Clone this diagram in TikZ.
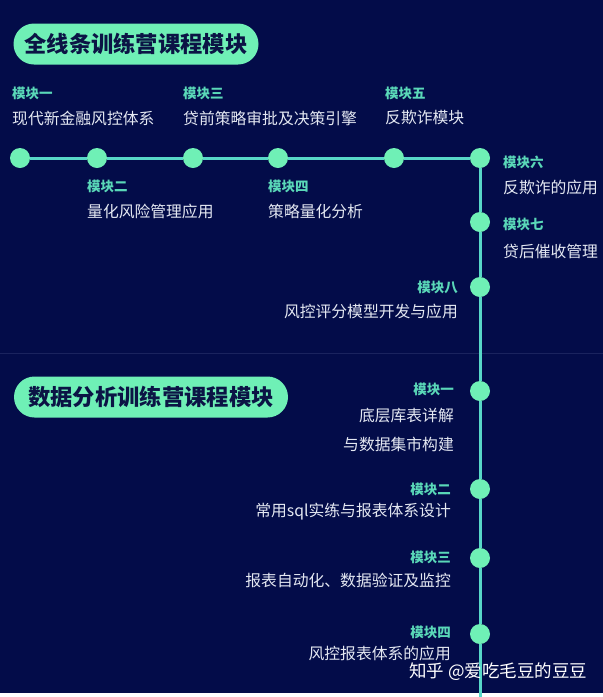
\documentclass[tikz,border=0pt]{standalone}
\usepackage{fontspec}
\setmainfont{Noto Sans CJK SC}
\usepackage{xcolor}
\usepackage{tikz}
\usetikzlibrary{positioning}

\definecolor{navybg}{HTML}{030C49}
\definecolor{mintfill}{HTML}{6FF0B6}
\definecolor{trackcol}{HTML}{58D8C8}
\definecolor{tagcol}{HTML}{5AD8B8}
\definecolor{inkcol}{HTML}{0B1445}
\definecolor{bodycol}{HTML}{E4E8F2}
\definecolor{rulecol}{HTML}{1A235E}

\begin{document}
\begin{tikzpicture}[x=1pt, y=-1pt,
		dot/.style={circle, fill=mintfill, minimum size=20pt, inner sep=0pt},
		trackline/.style={trackcol, line width=3pt},
		pill/.style={rounded corners=20.5pt, fill=mintfill, text=inkcol, inner sep=0pt,
			minimum height=41pt, font=\fontsize{22.3}{22.3}\selectfont\bfseries},
		tagtext/.style={text=tagcol, inner sep=0pt, font=\fontsize{13.5}{13.5}\selectfont\bfseries},
		desc/.style={text=bodycol, inner sep=0pt, font=\fontsize{15.8}{15.8}\selectfont}]
	\useasboundingbox (0,0) rectangle (603,697);
	\fill[navybg] (0,0) rectangle (603,693);
	\draw[rulecol, line width=1.5pt] (0,353.5) -- (603,353.5);

	% Section titles
	\node[pill, minimum width=245pt] (title1) at (136,44) {全线条训练营课程模块};
	\node[pill, minimum width=274pt] (title2) at (151,397) {数据分析训练营课程模块};

	% Milestones
	\node[dot] (m1) at (20,158) {};
	\node[dot] (m2) at (97,158) {};
	\node[dot] (m3) at (193,158) {};
	\node[dot] (m4) at (278,158) {};
	\node[dot] (m5) at (394,158) {};
	\node[dot] (m6) at (480,158) {};
	\node[dot] (m7) at (480,222) {};
	\node[dot] (m8) at (480,287) {};
	\node[dot] (s1) at (480,391) {};
	\node[dot] (s2) at (480,489) {};
	\node[dot] (s3) at (480,558) {};
	\node[dot] (s4) at (480,634) {};
	\coordinate (tail) at (480,697);

	\foreach \a/\b in {m1/m2, m2/m3, m3/m4, m4/m5, m5/m6, m6/m7, m7/m8, m8/s1, s1/s2, s2/s3, s3/s4, s4/tail}
		\draw[trackline] (\a) -- (\b);

	% First course: labels above and below the line
	\node[tagtext, anchor=west] (t1) at (12,93) {模块一};
	\node[desc, anchor=west] (c1) at (12,118) {现代新金融风控体系};
	\node[tagtext, anchor=west] (t3) at (183,93) {模块三};
	\node[desc, anchor=west] (c3) at (183,118) {贷前策略审批及决策引擎};
	\node[tagtext, anchor=west] (t5) at (385,93) {模块五};
	\node[desc, anchor=west] (c5) at (385,118) {反欺诈模块};
	\node[tagtext, anchor=west] (t2) at (87,186) {模块二};
	\node[desc, anchor=west] (c2) at (87,211) {量化风险管理应用};
	\node[tagtext, anchor=west] (t4) at (268,186) {模块四};
	\node[desc, anchor=west] (c4) at (268,211) {策略量化分析};
	\node[tagtext, anchor=west] (t6) at (503,162) {模块六};
	\node[desc, anchor=west] (c6) at (503,187) {反欺诈的应用};
	\node[tagtext, anchor=west] (t7) at (503,224) {模块七};
	\node[desc, anchor=west] (c7) at (503,251) {贷后催收管理};
	\node[tagtext, anchor=east] (t8) at (458,287) {模块八};
	\node[desc, anchor=east] (c8) at (458,311) {风控评分模型开发与应用};

	% Second course
	\node[tagtext, anchor=east] (u1) at (454,389) {模块一};
	\node[desc, anchor=east] (d1) at (454,416) {底层库表详解};
	\node[desc, anchor=east] (d1b) at (454,444) {与数据集市构建};
	\node[tagtext, anchor=east] (u2) at (451,489) {模块二};
	\node[desc, anchor=east] (d2) at (451,512) {常用sql实练与报表体系设计};
	\node[tagtext, anchor=east] (u3) at (451,557) {模块三};
	\node[desc, anchor=east] (d3) at (451,580) {报表自动化、数据验证及监控};
	\node[tagtext, anchor=east] (u4) at (451,632) {模块四};
	\node[desc, anchor=east] (d4) at (451,653) {风控报表体系的应用};

	\node[text=white, inner sep=0pt, anchor=west, font=\fontsize{17.5}{17.5}\selectfont] (mark) at (409,672) {知乎 @爱吃毛豆的豆豆};
\end{tikzpicture}
\end{document}
